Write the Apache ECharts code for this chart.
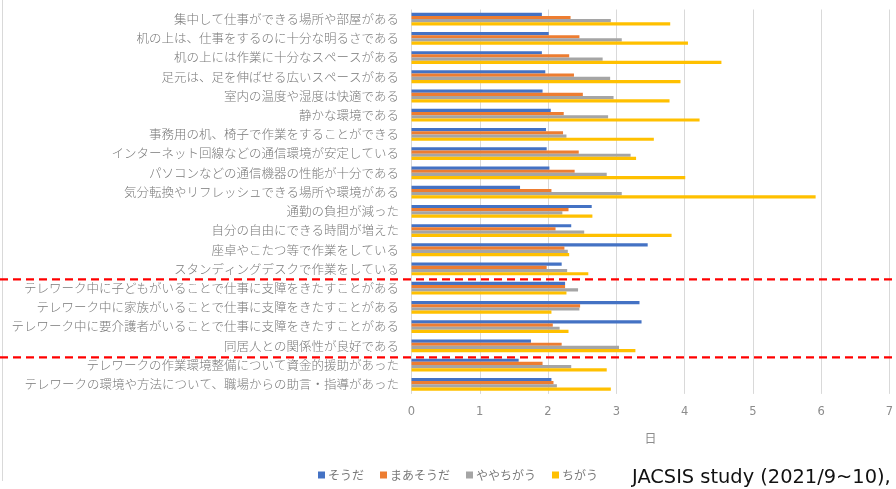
<!DOCTYPE html>
<html><head><meta charset="utf-8">
<script src="https://cdn.jsdelivr.net/npm/echarts@6/dist/echarts.min.js"></script>
<style>html,body{margin:0;padding:0;background:#fff}#c{width:896px;height:489px}</style>
</head><body><div id="c"></div>
<script>
const categories = [
'集中して仕事ができる場所や部屋がある',
'机の上は、仕事をするのに十分な明るさである',
'机の上には作業に十分なスペースがある',
'足元は、足を伸ばせる広いスペースがある',
'室内の温度や湿度は快適である',
'静かな環境である',
'事務用の机、椅子で作業をすることができる',
'インターネット回線などの通信環境が安定している',
'パソコンなどの通信機器の性能が十分である',
'気分転換やリフレッシュできる場所や環境がある',
'通勤の負担が減った',
'自分の自由にできる時間が増えた',
'座卓やこたつ等で作業をしている',
'スタンディングデスクで作業をしている',
'テレワーク中に子どもがいることで仕事に支障をきたすことがある',
'テレワーク中に家族がいることで仕事に支障をきたすことがある',
'テレワーク中に要介護者がいることで仕事に支障をきたすことがある',
'同居人との関係性が良好である',
'テレワークの作業環境整備について資金的援助があった',
'テレワークの環境や方法について、職場からの助言・指導があった'
];
const seriesNames = ['そうだ','まあそうだ','ややちがう','ちがう'];
const soda    = [1.91,2.01,1.91,1.96,1.92,2.04,1.97,1.98,2.02,1.59,2.64,2.34,3.46,2.20,2.25,3.34,3.37,1.75,1.57,2.05];
const maasoda = [2.33,2.46,2.31,2.38,2.51,2.23,2.22,2.45,2.39,2.05,2.30,2.11,2.24,1.98,2.25,2.47,2.07,2.20,1.92,2.08];
const yaya    = [2.92,3.08,2.80,2.91,2.96,2.88,2.27,3.21,2.86,3.08,2.21,2.53,2.29,2.28,2.44,2.46,2.17,3.04,2.34,2.13];
const chigau  = [3.79,4.05,4.54,3.94,3.78,4.22,3.55,3.29,4.01,5.92,2.65,3.81,2.31,2.59,2.27,2.05,2.30,3.28,2.86,2.92];
const xTicks = [0,1,2,3,4,5,6,7];
const axisName = '日';
const sourceNote = 'JACSIS study (2021/9~10),';
const dividerAfter = [13, 17]; // red dashed lines after these category indices

const colors = ['#4472C4','#ED7D31','#A5A5A5','#FFC000'];
const values = [soda, maasoda, yaya, chigau];
const jp = '"Noto Sans CJK JP", "Noto Sans", sans-serif';

const chart = echarts.init(document.getElementById('c'), null, {renderer:'canvas'});
const option = {
  animation:false,
  color: colors,
  grid:{left:411.5, right:2.7, top:9.5, bottom:95.1, containLabel:false},
  xAxis:{
    type:'value', min:xTicks[0], max:xTicks[xTicks.length-1], interval:1,
    name: axisName, nameLocation:'middle', nameGap:39,
    nameTextStyle:{color:'#8c8c8c', fontSize:12, fontFamily:jp},
    axisLine:{show:false}, axisTick:{show:false},
    axisLabel:{color:'#8c8c8c', fontSize:11.5, margin:12, fontFamily:'"DejaVu Sans", sans-serif'},
    splitLine:{lineStyle:{color:'#d9d9d9', width:1}}
  },
  yAxis:{
    type:'category', data:categories, inverse:true,
    axisLine:{show:false}, axisTick:{show:false},
    axisLabel:{color:'#7a7a7a', fontSize:12.5, margin:12.5, fontFamily:jp, fontWeight:300},
    splitLine:{show:false}
  },
  legend:{
    data: seriesNames, left:318, top:469, padding:0, icon:'rect', itemWidth:7, itemHeight:7, itemGap:16,
    textStyle:{color:'#7a7a7a', fontSize:12, fontFamily:jp, padding:[0,0,0,-2]}
  },
  series: seriesNames.map((n,i)=>({
    name:n, type:'bar', data: values[i], barWidth:3.2, barGap:'0%',
    itemStyle:{color:colors[i]}
  }))
};
chart.setOption(option);

function addGraphics(){
  const els = [];
  dividerAfter.forEach((idx, k)=>{
    const y1 = chart.convertToPixel({yAxisIndex:0}, categories[idx]);
    const y2 = chart.convertToPixel({yAxisIndex:0}, categories[idx+1]);
    const y = (y1+y2)/2 + (k===1 ? 2 : 0.7);
    els.push({type:'line', shape:{x1:0, y1:y, x2:896, y2:y},
      style:{stroke:'#ff0000', lineWidth:2.2, lineDash:[8,5]}, z:100});
  });
  els.push({type:'line', shape:{x1:2.5, y1:0, x2:2.5, y2:481}, style:{stroke:'#d9d9d9', lineWidth:1}});
  els.push({type:'text', left:632, top:468,
    style:{text:sourceNote, fontSize:19.4, fill:'#111', fontFamily:'"DejaVu Sans", Verdana, sans-serif'}});
  chart.setOption({graphic:els});
}
addGraphics();
</script></body></html>
